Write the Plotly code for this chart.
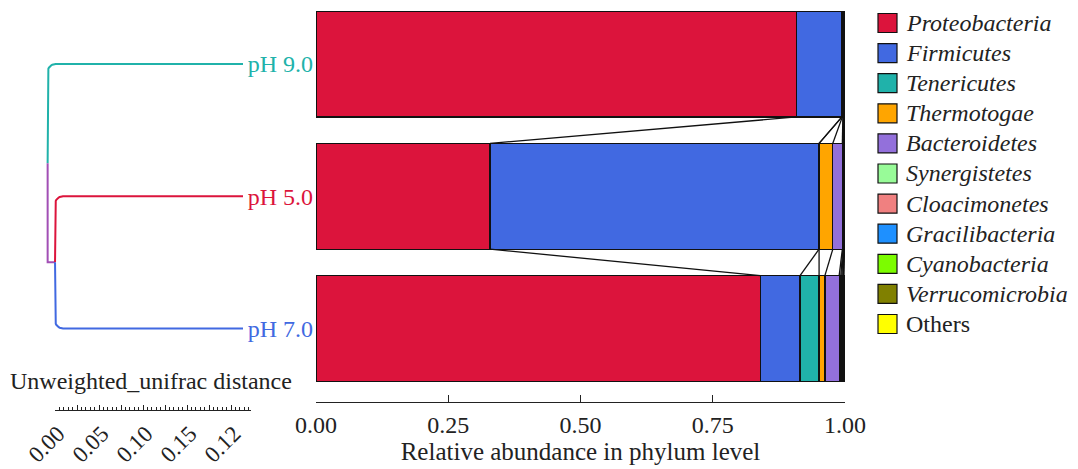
import plotly.graph_objects as go
import numpy as np

# ---------------- data ----------------
samples = ["pH 7.0", "pH 5.0", "pH 9.0"]          # bottom -> top
sample_colors = ["#4169E1", "#DC143C", "#20B2AA"]

phyla = ["Proteobacteria", "Firmicutes", "Tenericutes", "Thermotogae", "Bacteroidetes",
         "Synergistetes", "Cloacimonetes", "Gracilibacteria", "Cyanobacteria",
         "Verrucomicrobia", "Others"]
phyla_italic = [True] * 10 + [False]
phyla_colors = ["#DC143C", "#4169E1", "#20B2AA", "#FFA500", "#9370DB", "#98FB98",
                "#F08080", "#1E90FF", "#7CFC00", "#808000", "#FFFF00"]

# relative abundance, rows follow `phyla`, columns follow `samples`
abund_pH70 = [0.840, 0.075, 0.036, 0.011, 0.027, 0.003, 0.002, 0.002, 0.001, 0.001, 0.002]
abund_pH50 = [0.329, 0.622, 0.000, 0.026, 0.018, 0.001, 0.001, 0.001, 0.0005, 0.0005, 0.001]
abund_pH90 = [0.909, 0.085, 0.0005, 0.0005, 0.001, 0.001, 0.0005, 0.001, 0.0005, 0.0005, 0.0005]
abundances = [abund_pH70, abund_pH50, abund_pH90]

# dendrogram (unweighted unifrac): merge heights
h_root = 0.222      # (pH 9.0, (pH 5.0, pH 7.0))
h_sub = 0.2136      # (pH 5.0, pH 7.0)
mix_color = "#A24FB5"

# distance scale bar
scale_vals = [0.00, 0.025, 0.05, 0.075, 0.10, 0.125, 0.15, 0.175, 0.20]
scale_text = ["0.00", "", "0.05", "", "0.10", "", "0.15", "", "0.12"]

FONT = "Liberation Serif"
FS = 24
W, H = 1078, 469

fig = go.Figure()

ypos = list(range(len(samples)))

# ---------------- stacked bars ----------------
for k, ph in enumerate(phyla):
    fig.add_trace(go.Bar(
        y=ypos, x=[abundances[s][k] for s in range(len(samples))],
        orientation="h", name=ph, showlegend=False,
        marker=dict(color=phyla_colors[k], line=dict(color="#111", width=1.2)),
        xaxis="x", yaxis="y", width=0.8,
    ))

# connecting lines between adjacent bars
cums = [np.cumsum(a) for a in abundances]
shapes = []
for s in range(len(samples) - 1, 0, -1):
    upper, lower = cums[s], cums[s - 1]
    for k in range(len(phyla) - 1):
        shapes.append(dict(type="line", xref="x", yref="y",
                           x0=upper[k], y0=ypos[s] - 0.4, x1=lower[k], y1=ypos[s - 1] + 0.4,
                           line=dict(color="#111", width=1.3), layer="above"))

# ---------------- dendrogram ----------------
X2_RANGE = 243 * 0.05 / 44
RX = 8 / 880        # corner radius in data units (x)
RY = 8 / 132.25     # corner radius in data units (y)


def rounded_L(xv, y0, yc, xe, rx=RX, ry=RY, n=12):
    """vertical from (xv, y0) to (xv, yc), then horizontal to (xe, yc), rounded corner"""
    dv = np.sign(yc - y0)
    dh = np.sign(xe - xv)
    cx, cy = xv + dh * rx, yc - dv * ry
    t = np.linspace(0, np.pi / 2, n)
    xs = [xv] + list(cx - dh * rx * np.cos(t)) + [xe]
    ys = [y0] + list(cy + dv * ry * np.sin(t)) + [yc]
    return xs, ys


y9, y5, y7 = ypos[2], ypos[1], ypos[0]
y_sub = (y5 + y7) / 2
y_split = (y9 + y_sub) / 2
dendro = [
    (*rounded_L(h_root, y_split, y9, 0), sample_colors[2]),
    ([h_root, h_root, h_sub], [y_split, y_sub, y_sub], mix_color),
    (*rounded_L(h_sub, y_sub, y5, 0), sample_colors[1]),
    (*rounded_L(h_sub, y_sub, y7, 0), sample_colors[0]),
]
for xs, ys, c in dendro:
    fig.add_trace(go.Scatter(x=xs, y=ys, mode="lines", line=dict(color=c, width=2),
                             xaxis="x2", yaxis="y", showlegend=False, hoverinfo="skip"))

# dummy trace to carry the scale-bar axis
fig.add_trace(go.Scatter(x=[], y=[], xaxis="x3", yaxis="y3", showlegend=False))

# ---------------- manual legend ----------------
annotations = []
lx0, lsz, ly0, lstep, ltx = 878, 19, 23, 30.1, 904
for k, ph in enumerate(phyla):
    yc = ly0 + k * lstep
    shapes.append(dict(type="rect", xref="paper", yref="paper",
                       x0=lx0 / W, x1=(lx0 + lsz) / W,
                       y0=1 - (yc + lsz / 2) / H, y1=1 - (yc - lsz / 2) / H,
                       fillcolor=phyla_colors[k], line=dict(color="#111", width=1.2)))
    txt = f"<i>{ph}</i>" if phyla_italic[k] else ph
    annotations.append(dict(xref="paper", yref="paper", x=ltx / W, y=1 - yc / H,
                            xanchor="left", yanchor="middle", text=txt, showarrow=False,
                            font=dict(family=FONT, size=FS, color="#222")))

annotations.append(dict(xref="paper", yref="paper", x=151 / W, y=1 - 381 / H,
                        xanchor="center", yanchor="middle",
                        text="Unweighted_unifrac distance", showarrow=False,
                        font=dict(family=FONT, size=FS, color="#222")))

ticktext = [f'<span style="color:{c}">{s}</span>' for s, c in zip(samples, sample_colors)]

fig.update_layout(
    template="none",
    width=W, height=H, margin=dict(l=0, r=0, t=0, b=0, autoexpand=False),
    paper_bgcolor="white", plot_bgcolor="rgba(0,0,0,0)",
    barmode="stack", bargap=0.2,
    font=dict(family=FONT, size=FS, color="#222"),
    xaxis=dict(domain=[316 / W, 845 / W], range=[0, 1], anchor="y", automargin=False,
               showgrid=False, zeroline=False, showline=True, linecolor="#222", linewidth=1.3,
               ticks="inside", ticklen=7, tickwidth=1.3, tickcolor="#222",
               tickvals=[0, 0.25, 0.5, 0.75, 1.0], tickformat=".2f",
               tickfont=dict(size=FS), ticklabelstandoff=1,
               title=dict(text="Relative abundance in phylum level", standoff=0,
                          font=dict(size=25))),
    yaxis=dict(domain=[(H - 402) / H, 1], range=[-0.556, 2.484], automargin=False,
               showgrid=False, zeroline=False, showline=False, ticks="",
               tickvals=ypos, ticktext=ticktext, tickfont=dict(size=FS),
               ticklabelstandoff=2),
    xaxis2=dict(domain=[0, 243 / W], range=[X2_RANGE, 0], anchor="y",
                visible=False, showgrid=False, zeroline=False, automargin=False),
    yaxis3=dict(domain=[(H - 410) / H, (H - 405) / H], visible=False, automargin=False,
                anchor="x3"),
    xaxis3=dict(domain=[55 / W, 251 / W], range=[0, 196 * 0.05 / 44], anchor="y3",
                automargin=False, showgrid=False, zeroline=False,
                showline=True, linecolor="#222", linewidth=1.2,
                ticks="inside", ticklen=5, tickwidth=1, tickcolor="#222",
                tickvals=scale_vals, ticktext=scale_text, tickangle=-45,
                tickfont=dict(size=23), ticklabelshift=3,
                minor=dict(dtick=0.005, ticks="inside", ticklen=3, tickcolor="#222",
                           tickwidth=0.8, showgrid=False)),
    shapes=shapes, annotations=annotations,
)

fig.write_html("out.html")
